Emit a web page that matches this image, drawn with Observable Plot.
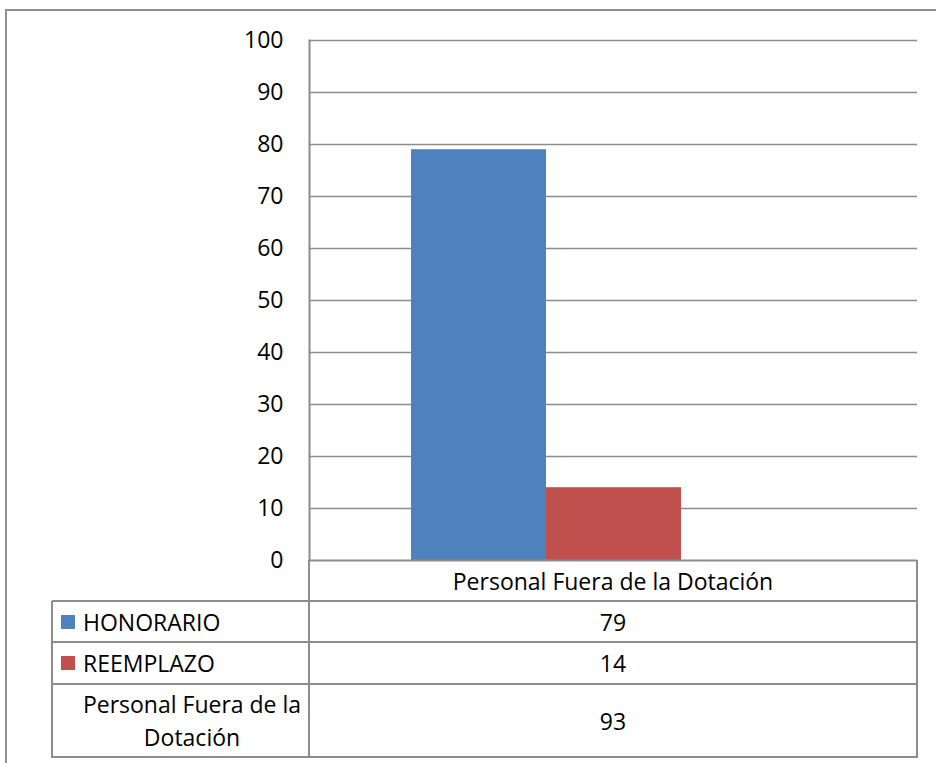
<!DOCTYPE html>
<html><head><meta charset="utf-8">
<script src="https://cdn.jsdelivr.net/npm/d3@7"></script>
<script src="https://cdn.jsdelivr.net/npm/@observablehq/plot@0.6"></script>
<style>
html,body{margin:0;padding:0;background:#fff;overflow:hidden;width:936px;height:763px}
#frame{position:absolute;left:5px;top:9px;width:1000px;height:800px;border:2px solid #8e8e8e;box-sizing:border-box}
#chart{position:absolute;left:0;top:0}
.ln{position:absolute;background:#8c8c8c}
.txt{position:absolute;font-family:"Open Sans","Noto Sans",sans-serif;font-size:23px;color:#000;line-height:26px;white-space:nowrap}
.key{position:absolute;width:14px;height:14px}
</style></head>
<body>
<div id="frame"></div>
<div id="chart"></div>
<div id="table"></div>
<script>
const category = ["Personal Fuera de la Dotación"];
const series = ["HONORARIO", "REEMPLAZO", "Personal Fuera de la Dotación"];
const values = [79, 14, 93];
const colors = ["#4F81BD", "#C0504D", "none"];
const yTicks = [0, 10, 20, 30, 40, 50, 60, 70, 80, 90, 100];

const data = series.map((s, i) => ({category: category[0], series: s, value: values[i]}));

const chart = Plot.plot({
  width: 936, height: 563,
  marginLeft: 309, marginRight: 19, marginTop: 40, marginBottom: 3,
  style: {fontFamily: "'Open Sans', 'Noto Sans', sans-serif", fontSize: "23px", color: "#000", overflow: "visible"},
  x: {domain: series, paddingInner: 0, paddingOuter: 0.75, axis: null},
  y: {domain: [0, 100], ticks: yTicks, tickSize: 0, tickPadding: 26, label: null},
  color: {type: "ordinal", domain: series, range: colors},
  marks: [
    Plot.gridY(yTicks.slice(1), {stroke: "#8c8c8c", strokeOpacity: 1, strokeWidth: 1.5}),
    Plot.barY(data, {x: "series", y: "value", fill: "series", inset: 0}),
    Plot.frame({anchor: "left", stroke: "#8c8c8c", strokeWidth: 2}),
    Plot.ruleY([0], {stroke: "#8c8c8c", strokeWidth: 2})
  ]
});
document.getElementById("chart").append(chart);

// data table under the chart, built from the same arrays
const T = document.getElementById("table");
const rowsY = [560, 601, 642, 684, 757];
const xL = 52, xM = 309, xR = 917;
function line(x, y, w, h) { const d = document.createElement("div"); d.className = "ln"; Object.assign(d.style, {left: x + "px", top: y + "px", width: w + "px", height: h + "px"}); T.append(d); }
function text(s, cx, cy, align, extra) {
  const d = document.createElement("div"); d.className = "txt"; d.innerHTML = s;
  Object.assign(d.style, extra || {});
  T.append(d);
  const r = d.getBoundingClientRect();
  let x = align === "center" ? cx - r.width / 2 : cx;
  d.style.left = x + "px"; d.style.top = (cy - r.height / 2) + "px";
}
// horizontal lines
for (let i = 1; i < rowsY.length; i++) line(xL, rowsY[i] - 1, xR - xL + 1, 2);
// vertical lines
line(xM - 1, 560, 2, 757 - 560 + 1);
line(xR - 1, 560, 2, 757 - 560 + 1);
line(xL - 1, 601, 2, 757 - 601 + 1);
// header
text(category[0], (xM + xR) / 2, (rowsY[0] + rowsY[1]) / 2, "center");
// series rows
series.forEach((s, i) => {
  const cy = (rowsY[i + 1] + rowsY[i + 2]) / 2;
  text(String(values[i]), (xM + xR) / 2, cy, "center");
  if (colors[i] !== "none") {
    const k = document.createElement("div"); k.className = "key";
    Object.assign(k.style, {left: "61px", top: (cy - 7) + "px", background: colors[i]});
    T.append(k);
    text(s, 83, cy, "left");
  } else {
    const parts = s.split(" ");
    const l1 = parts.slice(0, 4).join(" "), l2 = parts.slice(4).join(" ");
    text(l1 + "<br>" + l2, 192, cy, "center", {textAlign: "center", lineHeight: "33px"});
  }
});
</script>
</body></html>
